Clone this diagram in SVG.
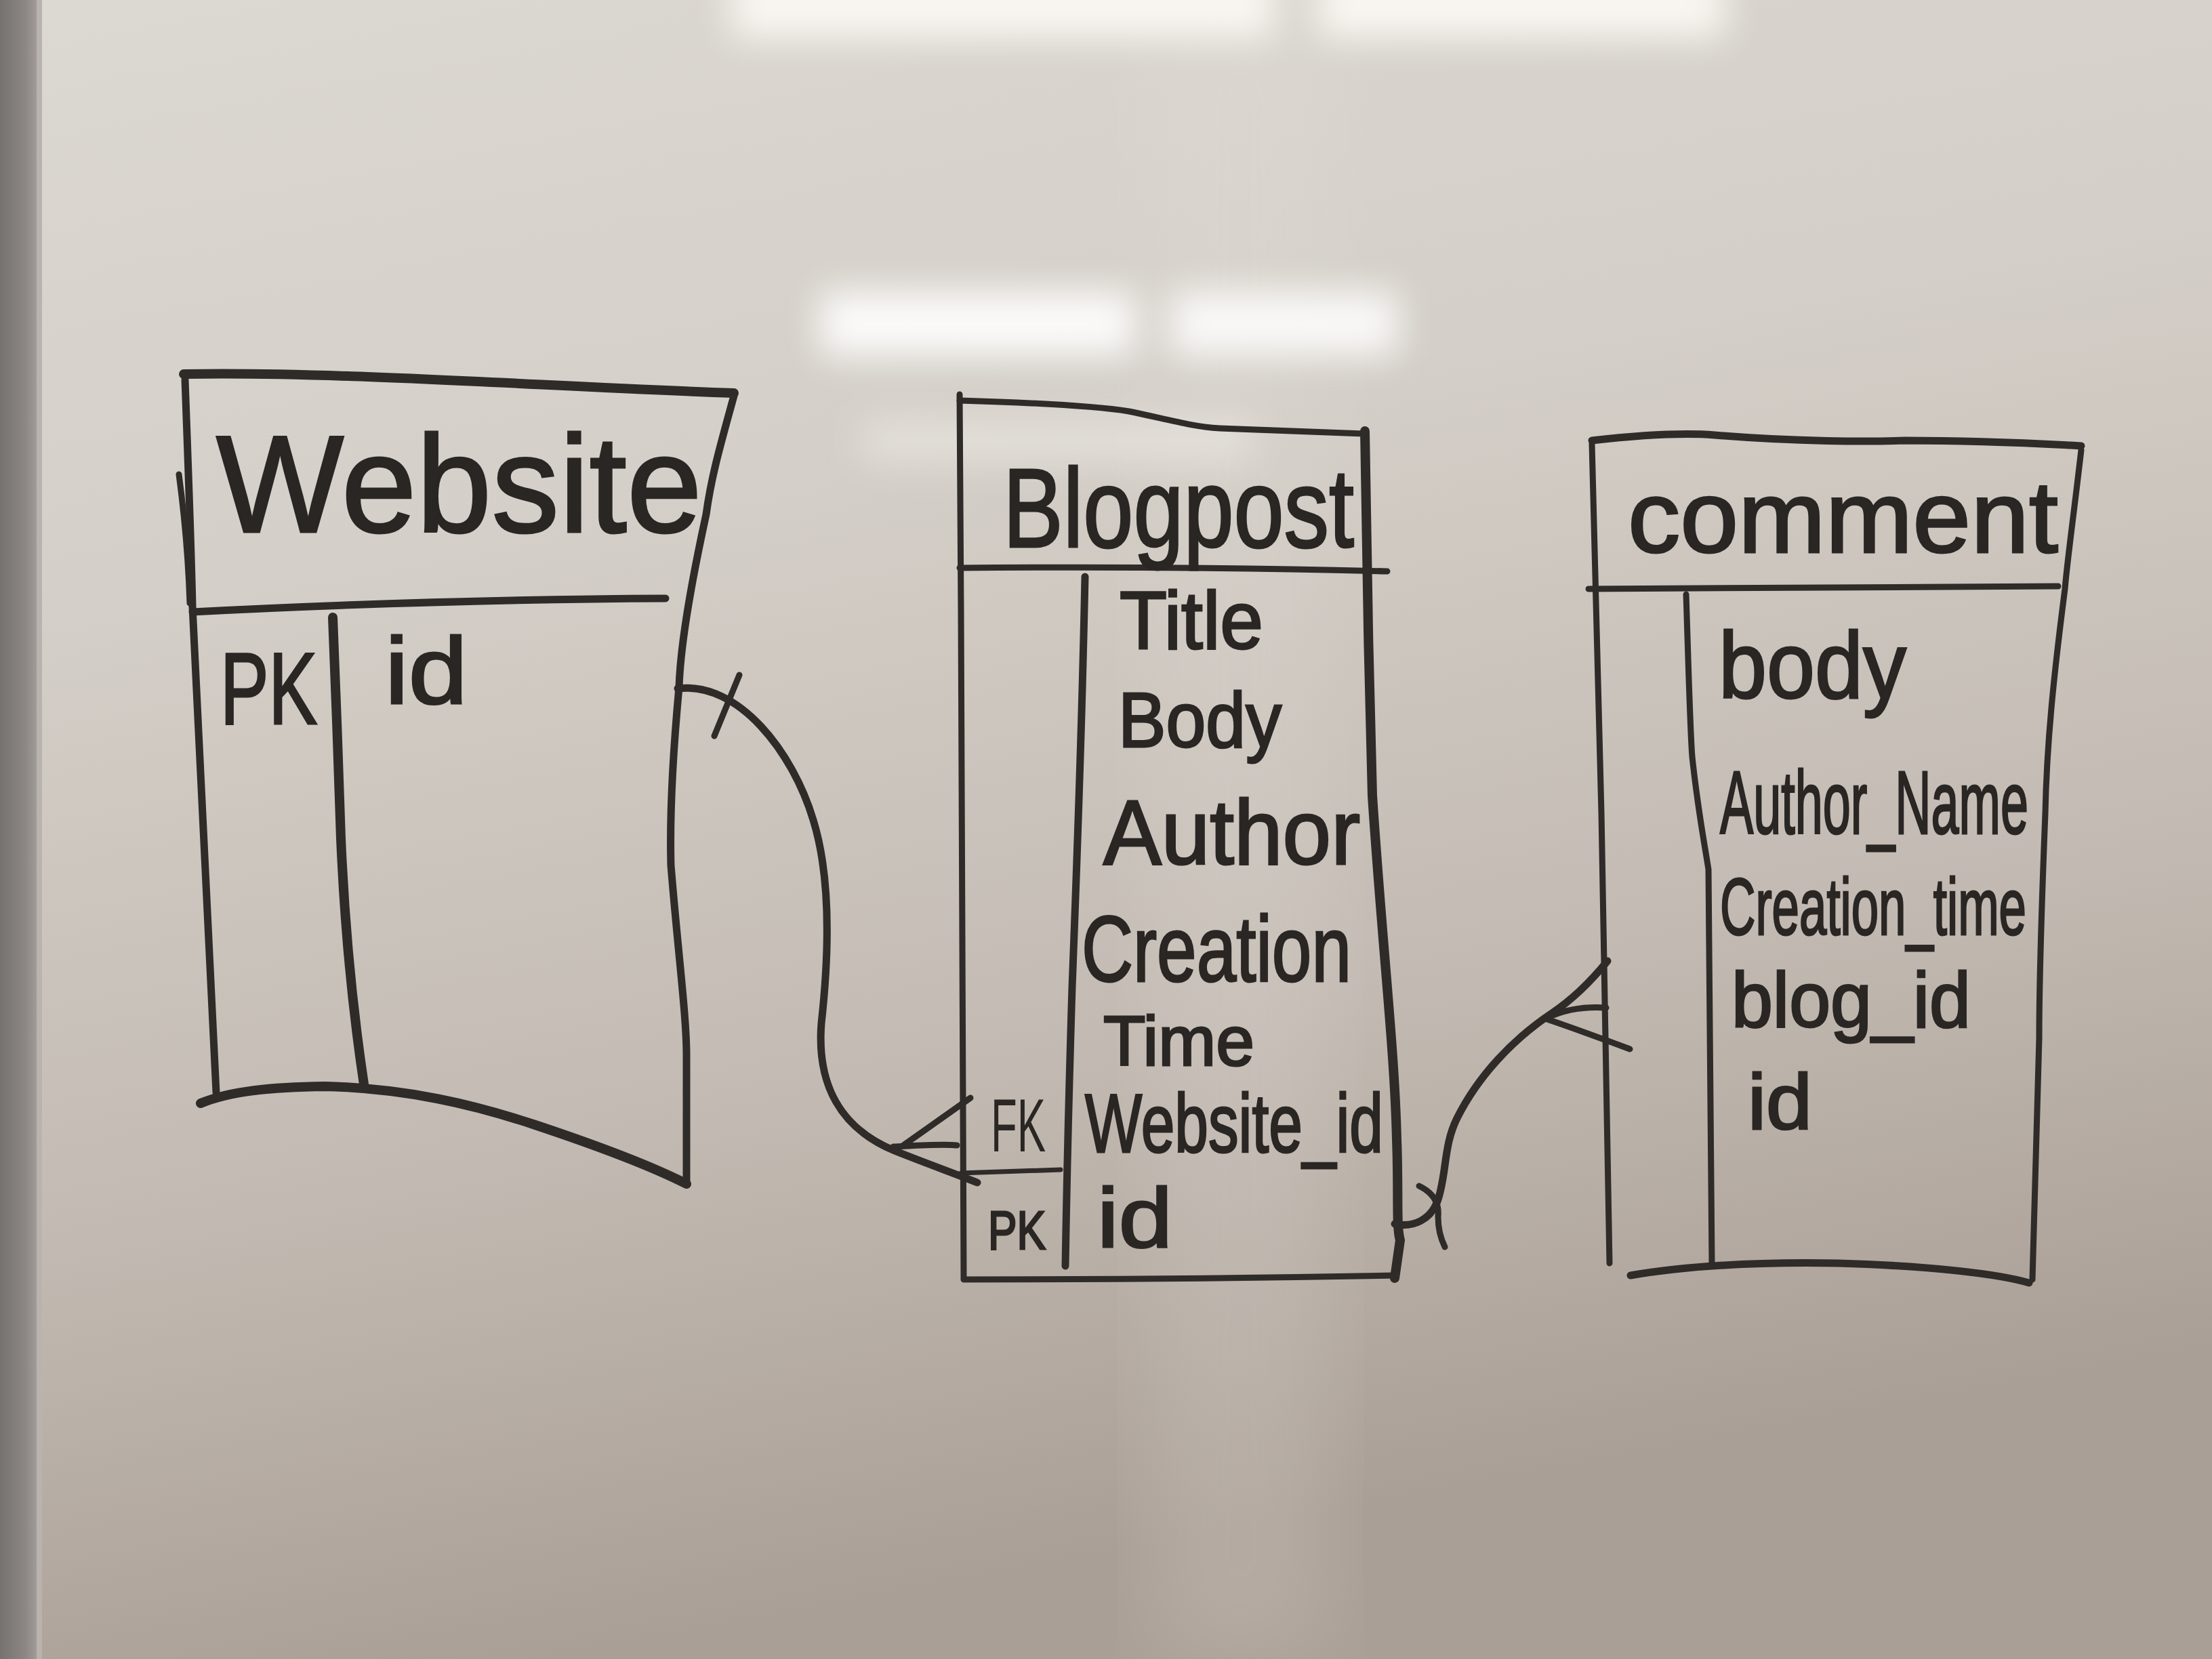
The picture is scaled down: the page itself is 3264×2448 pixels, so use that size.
<svg xmlns="http://www.w3.org/2000/svg" width="3264" height="2448" viewBox="0 0 3264 2448">
<defs>
<linearGradient id="bg" x1="0" y1="0" x2="0.25" y2="1">
<stop offset="0" stop-color="#dcd8d2"/>
<stop offset="0.35" stop-color="#d4cfc8"/>
<stop offset="0.7" stop-color="#c3bbb3"/>
<stop offset="1" stop-color="#aa9f96"/>
</linearGradient>
<linearGradient id="frame" x1="0" y1="0" x2="1" y2="0">
<stop offset="0" stop-color="#76726f"/>
<stop offset="0.6" stop-color="#8c8784"/>
<stop offset="1" stop-color="#aaa5a1"/>
</linearGradient>
<filter id="blur" x="-30%" y="-100%" width="160%" height="300%"><feGaussianBlur stdDeviation="26"/></filter>
<filter id="blurBig" x="-20%" y="-20%" width="140%" height="140%"><feGaussianBlur stdDeviation="60"/></filter>
<style>
.ink{fill:none;stroke:#2f2b29;stroke-linecap:round;stroke-linejoin:round}
.w14{stroke-width:14}
.w11{stroke-width:11}
.w9{stroke-width:9}
.w7{stroke-width:7}
.txt{font-family:"Liberation Sans","DejaVu Sans",sans-serif;fill:#2a2624;stroke:#2a2624;stroke-width:3}
</style>
</defs>

<rect x="0" y="0" width="3264" height="2448" fill="url(#bg)"/>
<rect x="1700" y="0" width="260" height="2448" fill="#e4e0da" opacity="0.18" filter="url(#blurBig)"/>
<g filter="url(#blur)">
<rect x="1080" y="-40" width="800" height="95" fill="#fffdf8" opacity="0.85"/>
<rect x="1945" y="-40" width="600" height="95" fill="#fffdf8" opacity="0.85"/>
<rect x="1210" y="430" width="465" height="95" fill="#ffffff" opacity="0.9"/>
<rect x="1728" y="430" width="335" height="95" fill="#ffffff" opacity="0.85"/>
<rect x="1270" y="615" width="580" height="70" fill="#f3f0ea" opacity="0.45"/>
</g>
<rect x="0" y="0" width="62" height="2448" fill="url(#frame)"/>
<rect x="54" y="0" width="8" height="2448" fill="#b8b3ae"/>

<g id="website">
<path class="ink w14" d="M271,552 C500,548 800,570 1083,580"/>
<path class="ink w11" d="M273,560 C278,700 282,800 284,895 C295,1150 310,1400 319,1612"/>
<path class="ink w9" d="M264,700 C272,760 278,830 280,890"/>
<path class="ink w11" d="M1083,584 C1065,650 1050,700 1042,759 C1020,860 1004,950 1002,1014 C994,1100 988,1200 990,1277 C1000,1400 1013,1500 1013,1556 L1013,1745"/>
<path class="ink w14" d="M296,1628 C340,1610 400,1604 480,1603 C600,1606 700,1630 790,1660 C880,1690 960,1720 1013,1747"/>
<path class="ink w11" d="M284,903 C500,892 750,884 982,883"/>
<path class="ink w14" d="M491,911 C495,1000 500,1150 503,1237 C510,1400 525,1520 537,1600"/>
<text class="txt" x="319" y="785" font-size="205" textLength="717" lengthAdjust="spacingAndGlyphs">Website</text>
<text class="txt" x="325" y="1068" font-size="150" textLength="143" lengthAdjust="spacingAndGlyphs">PK</text>
<text class="txt" x="568" y="1038" font-size="140" textLength="122" lengthAdjust="spacingAndGlyphs">id</text>
</g>

<g id="blogpost">
<path class="ink w9" d="M1416,591 C1520,594 1610,598 1666,607 C1720,618 1760,630 1800,632 L2012,640"/>
<path class="ink w9" d="M1416,582 L1418,900 L1422,1886"/>
<path class="ink w14" d="M2014,636 C2016,800 2020,1000 2025,1174 C2040,1400 2058,1550 2061,1682 C2064,1760 2060,1810 2066,1830 L2058,1886"/>
<path class="ink w9" d="M1422,1888 C1650,1888 1850,1886 2058,1882"/>
<path class="ink w9" d="M1416,838 C1650,836 1850,838 2047,843"/>
<path class="ink w11" d="M1601,851 C1596,1100 1588,1300 1582,1457 C1576,1650 1574,1750 1572,1868"/>
<path class="ink w7" d="M1418,1731 L1565,1726"/>
<text class="txt" x="1480" y="807" font-size="165" textLength="518" lengthAdjust="spacingAndGlyphs">Blogpost</text>
<text class="txt" x="1652" y="957" font-size="120" textLength="212" lengthAdjust="spacingAndGlyphs">Title</text>
<text class="txt" x="1650" y="1102" font-size="115" textLength="241" lengthAdjust="spacingAndGlyphs">Body</text>
<text class="txt" x="1628" y="1275" font-size="135" textLength="379" lengthAdjust="spacingAndGlyphs">Author</text>
<text class="txt" x="1596" y="1448" font-size="138" textLength="398" lengthAdjust="spacingAndGlyphs">Creation</text>
<text class="txt" x="1628" y="1572" font-size="104" textLength="223" lengthAdjust="spacingAndGlyphs">Time</text>
<text class="txt" x="1601" y="1700" font-size="122" textLength="440" lengthAdjust="spacingAndGlyphs">Website_id</text>
<text class="txt" x="1619" y="1840" font-size="125" textLength="111" lengthAdjust="spacingAndGlyphs">id</text>
<text class="txt" x="1462" y="1699" font-size="112" textLength="81" lengthAdjust="spacingAndGlyphs" style="stroke-width:0">FK</text>
<text class="txt" x="1458" y="1843" font-size="80" textLength="85" lengthAdjust="spacingAndGlyphs">PK</text>
</g>

<g id="comment">
<path class="ink w11" d="M2349,650 C2420,642 2480,638 2530,642 C2650,652 2760,652 2811,650 C2900,650 3000,654 3071,658"/>
<path class="ink w9" d="M2349,655 C2355,900 2360,1100 2363,1200 C2370,1500 2374,1700 2375,1864"/>
<path class="ink w9" d="M3071,664 C3060,760 3050,830 3047,869 C3030,1000 3020,1100 3018,1200 C3012,1350 3009,1450 3009,1532 L2999,1888"/>
<path class="ink w11" d="M2406,1882 C2500,1866 2600,1862 2712,1864 C2850,1868 2950,1880 2994,1893"/>
<path class="ink w9" d="M2344,869 C2600,868 2850,866 3037,865"/>
<path class="ink w9" d="M2488,877 C2492,1000 2494,1080 2497,1117 C2506,1200 2516,1250 2521,1283 C2524,1500 2525,1700 2526,1864"/>
<text class="txt" x="2402" y="815" font-size="150" textLength="635" lengthAdjust="spacingAndGlyphs">comment</text>
<text class="txt" x="2536" y="1030" font-size="140" textLength="277" lengthAdjust="spacingAndGlyphs">body</text>
<text class="txt" x="2538" y="1230" font-size="132" textLength="455" lengthAdjust="spacingAndGlyphs">Author_Name</text>
<text class="txt" x="2538" y="1379" font-size="118" textLength="452" lengthAdjust="spacingAndGlyphs">Creation_time</text>
<text class="txt" x="2555" y="1515" font-size="115" textLength="353" lengthAdjust="spacingAndGlyphs">blog_id</text>
<text class="txt" x="2579" y="1665" font-size="115" textLength="95" lengthAdjust="spacingAndGlyphs">id</text>
</g>

<g id="connectors">
<path class="ink w11" d="M1000,1016 C1090,1005 1170,1110 1200,1210 C1228,1300 1222,1420 1212,1510 C1205,1600 1240,1665 1320,1698 C1370,1718 1410,1732 1442,1745"/>
<path class="ink w9" d="M1091,996 L1054,1086"/>
<path class="ink w9" d="M1333,1690 L1432,1620"/>
<path class="ink w9" d="M1318,1692 C1360,1690 1390,1688 1412,1690"/>
<path class="ink w11" d="M2058,1806 C2085,1812 2112,1800 2122,1770 C2135,1730 2130,1690 2150,1650 C2180,1590 2230,1535 2290,1495 C2320,1475 2350,1445 2372,1418"/>
<path class="ink w9" d="M2094,1750 Q2125,1765 2122,1795 Q2122,1820 2132,1840"/>
<path class="ink w9" d="M2283,1502 Q2320,1484 2370,1487"/>
<path class="ink w9" d="M2280,1503 Q2330,1520 2405,1548"/>
</g>
</svg>
